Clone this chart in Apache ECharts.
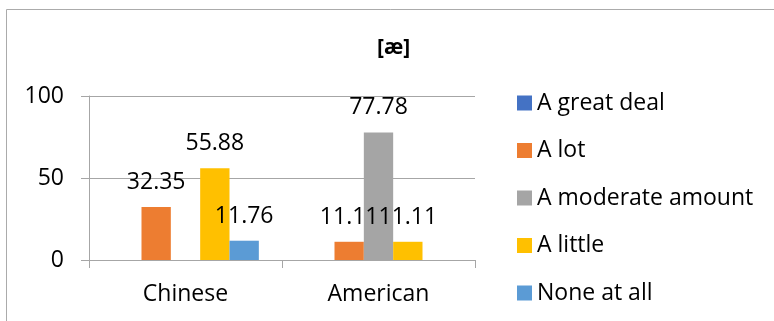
<!DOCTYPE html>
<html>
<head>
<meta charset="utf-8">
<script src="https://cdn.jsdelivr.net/npm/echarts@6/dist/echarts.min.js"></script>
<style>
  html, body { margin: 0; padding: 0; background: #fff; }
  #chart { width: 774px; height: 321px; }
</style>
</head>
<body>
<div id="chart"></div>
<script>
// Groups on the x axis
const categories = ['Chinese', 'American'];
// Response levels (one series each)
const seriesNames = ['A great deal', 'A lot', 'A moderate amount', 'A little', 'None at all'];
// Percentages per group; null = no response in that level
const greatDeal = [null, null];
const aLot = [32.35, 11.11];
const moderate = [null, 77.78];
const aLittle = [55.88, 11.11];
const noneAtAll = [11.76, null];
// Value axis ticks
const yTicks = [0, 50, 100];

const colors = ['#4472C4', '#ED7D31', '#A5A5A5', '#FFC000', '#5B9BD5'];
const values = [greatDeal, aLot, moderate, aLittle, noneAtAll];
const FONT = '"Open Sans", "Noto Sans", sans-serif';
const FS = 23;

const chart = echarts.init(document.getElementById('chart'));
chart.setOption({
  animation: false,
  textStyle: { fontFamily: FONT },
  graphic: [{
    type: 'rect', silent: true, z: -1,
    shape: { x: 6.5, y: 9.5, width: 900, height: 400 },
    style: { fill: 'none', stroke: '#ABABAB', lineWidth: 1 }
  }],
  title: {
    text: '[æ]',
    left: 377, top: 38, padding: 0,
    textStyle: { fontFamily: FONT, fontSize: 21, fontWeight: 'bold', color: '#000' }
  },
  legend: {
    orient: 'vertical',
    left: 517, top: 91, padding: 0,
    itemWidth: 15, itemHeight: 15,
    itemGap: 23.5,
    icon: 'rect',
    data: seriesNames,
    textStyle: { fontFamily: FONT, fontSize: FS, color: '#000', lineHeight: 24 }
  },
  grid: { left: 89, right: 299, top: 96, bottom: 61 },
  xAxis: {
    type: 'category',
    data: categories,
    axisLine: { lineStyle: { color: '#A6A6A6', width: 1 } },
    axisTick: { show: true, length: 8, lineStyle: { color: '#A6A6A6' } },
    axisLabel: { fontFamily: FONT, fontSize: FS, color: '#000', margin: 23 }
  },
  yAxis: {
    type: 'value',
    min: yTicks[0], max: yTicks[yTicks.length - 1], interval: yTicks[1] - yTicks[0],
    axisLine: { show: true, lineStyle: { color: '#A6A6A6', width: 1 } },
    axisTick: { show: true, length: 8, lineStyle: { color: '#A6A6A6' } },
    axisLabel: { fontFamily: FONT, fontSize: FS, color: '#000', margin: 25 },
    splitLine: { lineStyle: { color: '#A6A6A6', width: 1 } }
  },
  series: seriesNames.map((name, i) => ({
    name: name,
    type: 'bar',
    data: values[i],
    barGap: '0%',
    barCategoryGap: '24%',
    itemStyle: { color: colors[i] },
    label: {
      show: true, position: 'top', distance: 13,
      fontFamily: FONT, fontSize: FS, color: '#000'
    }
  }))
});
</script>
</body>
</html>
